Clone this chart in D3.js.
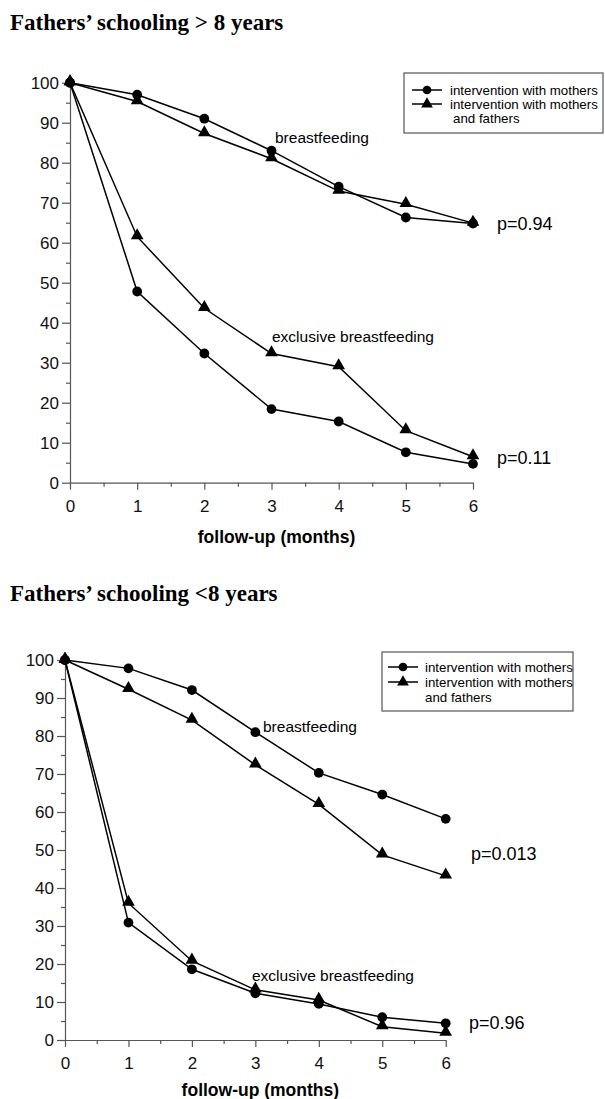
<!DOCTYPE html>
<html>
<head>
<meta charset="utf-8">
<script src="https://cdn.jsdelivr.net/npm/d3@7"></script>
<style>
  body { margin: 0; background: #fff; }
  svg { display: block; }
</style>
</head>
<body>
<script>
// follow-up months
const months = [0, 1, 2, 3, 4, 5, 6];

// fathers' schooling > 8 years
const hiBfMothers = [100, 97, 91, 83, 74, 66.3, 64.8];
const hiBfBoth = [100, 95.3, 87.3, 81, 72.9, 69.6, 64.9];
const hiExMothers = [100, 47.8, 32.3, 18.4, 15.3, 7.6, 4.7];
const hiExBoth = [100, 61.5, 43.6, 32.3, 29, 13, 6.5];

// fathers' schooling < 8 years
const loBfMothers = [100, 97.8, 92.1, 81, 70.3, 64.6, 58.2];
const loBfBoth = [100, 92.3, 84.2, 72.4, 62, 48.7, 43.2];
const loExMothers = [100, 30.9, 18.6, 12.3, 9.5, 6, 4.4];
const loExBoth = [100, 36, 20.8, 13.2, 10.5, 3.5, 1.8];

const yTicks = [0, 10, 20, 30, 40, 50, 60, 70, 80, 90, 100];
const legendLabels = ['intervention with mothers', 'intervention with mothers', 'and fathers'];

const width = 605, height = 1099;
const sans = '"Liberation Sans", Arial, sans-serif';
const serif = '"Liberation Serif", "Times New Roman", serif';

const svg = d3.select('body').append('svg')
    .attr('width', width)
    .attr('height', height)
    .style('background-color', 'white');

function panel(cfg) {
    const g = svg.append('g');

    const x = d3.scaleLinear().domain([0, 6]).range([cfg.left, cfg.right]);
    const y = d3.scaleLinear().domain([0, 100]).range([cfg.bottom, cfg.top]);

    g.append('text')
        .attr('x', 10).attr('y', cfg.titleY)
        .style('font-family', serif).style('font-weight', 'bold').style('font-size', '23px')
        .text(cfg.title);

    // y axis: major + minor ticks
    g.append('g')
        .attr('transform', `translate(${cfg.left},0)`)
        .call(d3.axisLeft(y).tickValues(d3.range(5, 100, 10)).tickSize(4).tickFormat(''))
        .call(a => a.select('.domain').remove());
    g.append('g')
        .attr('transform', `translate(${cfg.left},0)`)
        .call(d3.axisLeft(y).tickValues(yTicks).tickSize(8).tickSizeOuter(0).tickPadding(3))
        .call(a => a.selectAll('text').style('font-family', sans).style('font-size', '17px').attr('fill', '#111'));

    // x axis
    g.append('g')
        .attr('transform', `translate(0,${cfg.bottom})`)
        .call(d3.axisBottom(x).tickValues(d3.range(0.5, 6, 1)).tickSize(4).tickFormat(''))
        .call(a => a.select('.domain').remove());
    g.append('g')
        .attr('transform', `translate(0,${cfg.bottom})`)
        .call(d3.axisBottom(x).tickValues(months).tickFormat(d3.format('d'))
            .tickSize(7).tickSizeOuter(0).tickPadding(10))
        .call(a => a.selectAll('text').style('font-family', sans).style('font-size', '17px').attr('fill', '#111'));

    g.selectAll('.domain, .tick line').attr('stroke', '#555').attr('stroke-width', 1.2);

    g.append('text')
        .attr('x', (cfg.left + cfg.right) / 2 + 5).attr('y', cfg.bottom + cfg.xTitleDy)
        .attr('text-anchor', 'middle')
        .style('font-family', sans).style('font-weight', 'bold').style('font-size', '17.5px')
        .text('follow-up (months)');

    const line = d3.line().x((d, i) => x(months[i])).y(d => y(d));

    const series = [
        { v: cfg.bfMothers, m: 'circle' }, { v: cfg.bfBoth, m: 'triangle' },
        { v: cfg.exMothers, m: 'circle' }, { v: cfg.exBoth, m: 'triangle' }
    ];
    series.forEach(s => {
        g.append('path').datum(s.v)
            .attr('fill', 'none').attr('stroke', '#000').attr('stroke-width', 1.5)
            .attr('d', line);
        const sym = d3.symbol().type(s.m === 'circle' ? d3.symbolCircle : d3.symbolTriangle)
            .size(s.m === 'circle' ? 75 : 70);
        g.selectAll(null).data(s.v).join('path')
            .attr('transform', (d, i) => `translate(${x(months[i])},${y(d) + (s.m === 'circle' ? 0 : -1)})`)
            .attr('d', sym).attr('fill', '#000');
    });

    // annotations
    const lab = (t, px, py, fs) => g.append('text')
        .attr('x', px).attr('y', py).attr('dy', '0.35em')
        .style('font-family', sans).style('font-size', fs).text(t);
    lab('breastfeeding', cfg.bfLabel[0], cfg.bfLabel[1], '15.5px');
    lab('exclusive breastfeeding', cfg.exLabel[0], cfg.exLabel[1], '15.5px');
    lab(cfg.pBf, cfg.pBfPos[0], cfg.pBfPos[1], '18px');
    lab(cfg.pEx, cfg.pExPos[0], cfg.pExPos[1], '18px');

    // legend
    const L = cfg.legend;
    g.append('rect')
        .attr('x', L.x).attr('y', L.y).attr('width', L.w).attr('height', L.h)
        .attr('fill', 'none').attr('stroke', '#555').attr('stroke-width', 1.2);
    const rows = [
        { t: legendLabels[0], m: d3.symbolCircle, dy: 0 },
        { t: legendLabels[1], m: d3.symbolTriangle, dy: L.gap },
        { t: legendLabels[2], m: null, dy: 2 * L.gap }
    ];
    rows.forEach(r => {
        const ry = L.y + L.first + r.dy;
        if (r.m) {
            g.append('line')
                .attr('x1', L.sx).attr('x2', L.sx + 30).attr('y1', ry).attr('y2', ry)
                .attr('stroke', '#000').attr('stroke-width', 1.5);
            g.append('path')
                .attr('transform', `translate(${L.sx + 15},${ry})`)
                .attr('d', d3.symbol().type(r.m).size(60)).attr('fill', '#000');
        }
        g.append('text')
            .attr('x', L.tx + (r.m ? 0 : L.indent)).attr('y', ry).attr('dy', '0.35em')
            .style('font-family', sans).style('font-size', '13.3px')
            .text(r.t);
    });
}

panel({
    title: 'Fathers\u2019 schooling > 8 years', titleY: 30,
    left: 70, right: 473, top: 82.7, bottom: 482.7, xTitleDy: 60,
    bfMothers: hiBfMothers, bfBoth: hiBfBoth, exMothers: hiExMothers, exBoth: hiExBoth,
    bfLabel: [275, 138], exLabel: [272, 337],
    pBf: 'p=0.94', pBfPos: [497, 224], pEx: 'p=0.11', pExPos: [497, 458],
    legend: { x: 404, y: 73, w: 199, h: 60, first: 17, gap: 14, sx: 412, tx: 450, indent: 3 }
});

panel({
    title: 'Fathers\u2019 schooling <8 years', titleY: 601,
    left: 65, right: 445.7, top: 660, bottom: 1040, xTitleDy: 56,
    bfMothers: loBfMothers, bfBoth: loBfBoth, exMothers: loExMothers, exBoth: loExBoth,
    bfLabel: [263, 727], exLabel: [252, 976],
    pBf: 'p=0.013', pBfPos: [471, 854], pEx: 'p=0.96', pExPos: [469, 1023],
    legend: { x: 382, y: 652, w: 191, h: 59, first: 15, gap: 15, sx: 388, tx: 425, indent: 0 }
});
</script>
</body>
</html>
